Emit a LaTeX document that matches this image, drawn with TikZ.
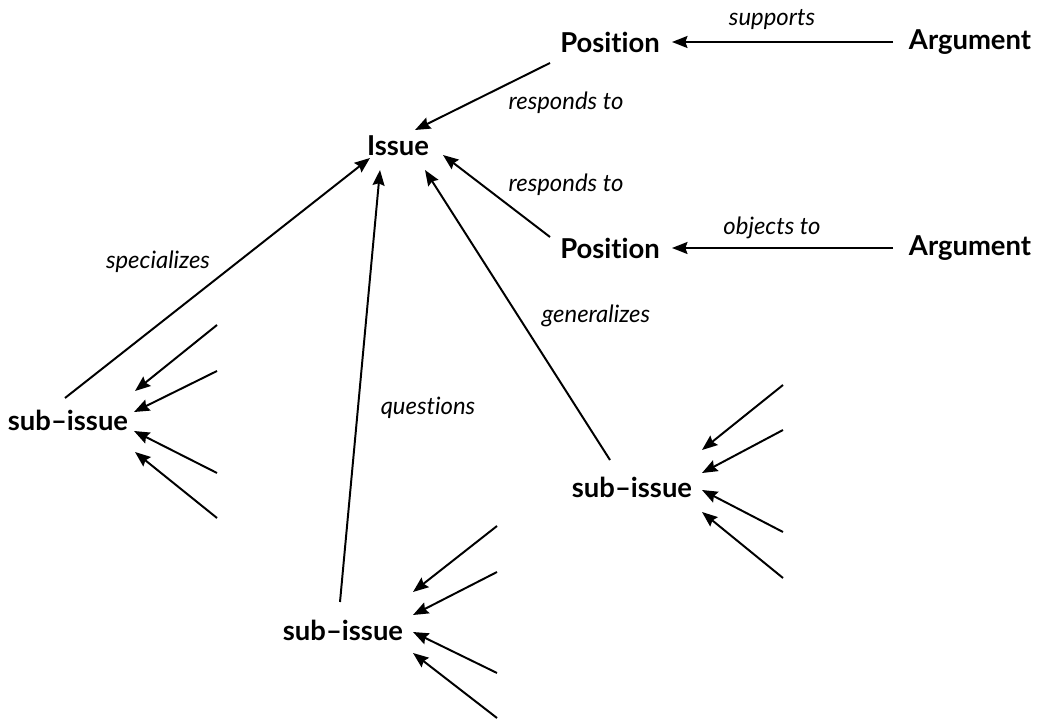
\documentclass[tikz,border=0pt]{standalone}
\usepackage{fontspec}
\setmainfont{Lato}[Ligatures={NoCommon}]
\usetikzlibrary{arrows.meta}
\tikzset{
  concept/.style={font=\fontsize{19.5}{23}\selectfont\bfseries, inner sep=0pt},
  rel/.style={font=\fontsize{17}{20}\selectfont\itshape, inner sep=0pt},
  arr/.style={line width=1.4pt, -{Stealth[length=11pt,width=8.5pt,inset=1.5pt]}}
}
\begin{document}
\begin{tikzpicture}[x=0.025cm,y=-0.025cm]
\useasboundingbox (0,0) rectangle (1040,720);
      \node[concept] (pos1) at (610,42) {Position};
      \node[concept] (arg1) at (970,42) {Argument};
      \node[concept] (issue) at (398,146) {Issue};
      \node[concept] (pos2) at (610,248) {Position};
      \node[concept] (arg2) at (970,248) {Argument};
      \node[concept] (subl) at (68,420) {sub--issue};
      \node[concept] (subr) at (632,487) {sub--issue};
      \node[concept] (subb) at (343,630) {sub--issue};
      \node[rel] (supp) at (772,20) {supports};
      \node[rel] (resp1) at (566,103) {responds to};
      \node[rel] (resp2) at (566,185) {responds to};
      \node[rel] (obj) at (772,228) {objects to};
      \node[rel] (spec) at (158,262) {specializes};
      \node[rel] (quest) at (428,408) {questions};
      \node[rel] (gen) at (596,316) {generalizes};
      \draw[arr] ([shift={(-77,0)}]arg1.center) -- ([shift={(62,0)}]pos1.center);
      \draw[arr] ([shift={(-77,0)}]arg2.center) -- ([shift={(62,0)}]pos2.center);
      \draw[arr] ([shift={(-60,21)}]pos1.center) -- ([shift={(17,-16)}]issue.center);
      \draw[arr] ([shift={(-60,-11)}]pos2.center) -- ([shift={(45,9)}]issue.center);
      \draw[arr] ([shift={(-3,-22)}]subl.center) -- ([shift={(-28,12)}]issue.center);
      \draw[arr] ([shift={(-3,-28)}]subb.center) -- ([shift={(-18,24)}]issue.center);
      \draw[arr] ([shift={(-22,-27)}]subr.center) -- ([shift={(27,24)}]issue.center);
      \coordinate (l1) at (217,325);
      \coordinate (l2) at (217,371);
      \coordinate (l3) at (217,473);
      \coordinate (l4) at (217,518);
      \draw[arr] (l1) -- ([shift={(67,-29)}]subl.center);
      \draw[arr] (l2) -- ([shift={(66,-8)}]subl.center);
      \draw[arr] (l3) -- ([shift={(66,11)}]subl.center);
      \draw[arr] (l4) -- ([shift={(67,32)}]subl.center);
      \coordinate (r1) at (783,385);
      \coordinate (r2) at (783,430);
      \coordinate (r3) at (783,532);
      \coordinate (r4) at (783,578);
      \draw[arr] (r1) -- ([shift={(70,-37)}]subr.center);
      \draw[arr] (r2) -- ([shift={(70,-14)}]subr.center);
      \draw[arr] (r3) -- ([shift={(70,3)}]subr.center);
      \draw[arr] (r4) -- ([shift={(70,25)}]subr.center);
      \coordinate (b1) at (497,526);
      \coordinate (b2) at (497,572);
      \coordinate (b3) at (497,673);
      \coordinate (b4) at (497,718);
      \draw[arr] (b1) -- ([shift={(70,-38)}]subb.center);
      \draw[arr] (b2) -- ([shift={(70,-15)}]subb.center);
      \draw[arr] (b3) -- ([shift={(70,2)}]subb.center);
      \draw[arr] (b4) -- ([shift={(70,23)}]subb.center);
\end{tikzpicture}
\end{document}
